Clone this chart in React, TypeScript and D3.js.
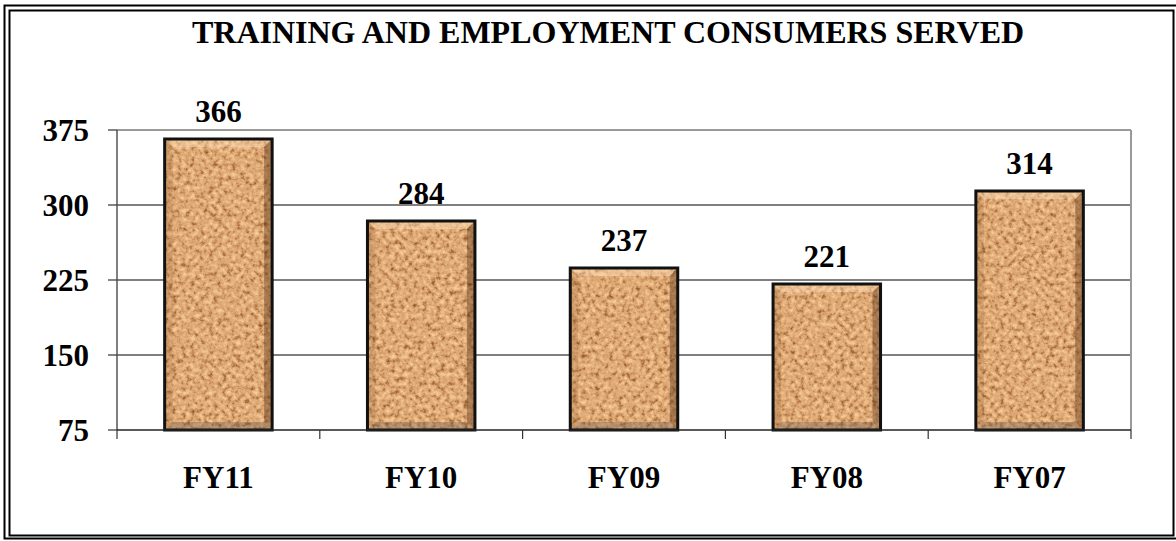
import React from "react";
import * as d3 from "d3";

const categories = ["FY11", "FY10", "FY09", "FY08", "FY07"];
const consumers = [366, 284, 237, 221, 314];
const yTicks = [75, 150, 225, 300, 375];
const title = "TRAINING AND EMPLOYMENT CONSUMERS SERVED";

const W = 1176;
const H = 541;
const plot = { left: 117, right: 1131, top: 130, bottom: 430 };
const font = "'Liberation Serif', 'Times New Roman', serif";

export default function App() {
  const x = d3
    .scaleBand<string>()
    .domain(categories)
    .range([plot.left, plot.right])
    .paddingInner(0.47)
    .paddingOuter(0.235);
  const band = d3.scaleBand<string>().domain(categories).range([plot.left, plot.right]);
  const y = d3.scaleLinear().domain([75, 375]).range([plot.bottom, plot.top]);
  const bev = 8;

  return (
    <svg
      width={W}
      height={H}
      style={{ position: "absolute", left: 0, top: 0, background: "#fff" }}
    >
      <defs>
        <filter id="cork" x="0" y="0" width="1" height="1" colorInterpolationFilters="sRGB">
          <feTurbulence type="fractalNoise" baseFrequency="0.22" numOctaves="3" seed="7" result="n" />
          <feColorMatrix
            in="n"
            type="matrix"
            values="0 0 0 0 0.6  0 0 0 0 0.36  0 0 0 0 0.18  3.5 0 0 0 -1.95"
            result="dark"
          />
          <feColorMatrix
            in="n"
            type="matrix"
            values="0 0 0 0 0.97  0 0 0 0 0.8  0 0 0 0 0.6  -3 0 0 0 1.6"
            result="light"
          />
          <feMerge result="m">
            <feMergeNode in="SourceGraphic" />
            <feMergeNode in="light" />
            <feMergeNode in="dark" />
          </feMerge>
          <feComposite in="m" in2="SourceAlpha" operator="in" />
        </filter>
      </defs>

      {/* double frame */}
      <rect x={4.5} y={5.5} width={1173} height={533} fill="none" stroke="#000" strokeWidth={2} />
      <rect x={9.5} y={10.5} width={1164} height={525} fill="none" stroke="#000" strokeWidth={2} />

      <text
        x={608}
        y={43}
        textAnchor="middle"
        fontFamily={font}
        fontWeight="bold"
        fontSize={32}
      >
        {title}
      </text>

      {/* gridlines */}
      {yTicks.slice(1, -1).map((t) => (
        <line key={t} x1={plot.left} x2={plot.right} y1={y(t)} y2={y(t)} stroke="#000" strokeWidth={1.2} />
      ))}
      {/* plot area top/right border */}
      <line x1={plot.left} x2={plot.right} y1={plot.top} y2={plot.top} stroke="#9a9a9a" strokeWidth={2} />
      <line x1={plot.right} x2={plot.right} y1={plot.top} y2={plot.bottom} stroke="#9a9a9a" strokeWidth={2} />

      {/* y axis */}
      <line x1={plot.left} x2={plot.left} y1={plot.top} y2={plot.bottom} stroke="#555" strokeWidth={1.5} />
      {yTicks.map((t) => (
        <g key={t}>
          <line x1={plot.left - 9} x2={plot.left} y1={y(t)} y2={y(t)} stroke="#333" strokeWidth={1.2} />
          <text
            x={plot.left - 28}
            y={y(t)}
            dy="0.35em"
            textAnchor="end"
            fontFamily={font}
            fontWeight="bold"
            fontSize={31}
          >
            {t}
          </text>
        </g>
      ))}

      {/* bars */}
      {categories.map((c, i) => {
        const x0 = x(c)!;
        const w = x.bandwidth();
        const y0 = y(consumers[i]);
        const h = y(75) - y0;
        const x1 = x0 + w;
        const y1 = y0 + h;
        return (
          <g key={c}>
            <rect x={x0} y={y0} width={w} height={h} fill="#dba571" filter="url(#cork)" />
            <polygon
              points={`${x0},${y0} ${x1},${y0} ${x1 - bev},${y0 + bev} ${x0 + bev},${y0 + bev}`}
              fill="rgba(255,228,190,0.4)"
            />
            <polygon
              points={`${x0},${y0} ${x0 + bev},${y0 + bev} ${x0 + bev},${y1 - bev} ${x0},${y1}`}
              fill="rgba(120,70,30,0.18)"
            />
            <polygon
              points={`${x1},${y0} ${x1},${y1} ${x1 - bev},${y1 - bev} ${x1 - bev},${y0 + bev}`}
              fill="rgba(70,35,10,0.38)"
            />
            <polygon
              points={`${x0},${y1} ${x0 + bev},${y1 - bev} ${x1 - bev},${y1 - bev} ${x1},${y1}`}
              fill="rgba(90,80,75,0.32)"
            />
            <rect x={x0} y={y0} width={w} height={h} fill="none" stroke="#111" strokeWidth={3} />
            <text
              x={x0 + w / 2}
              y={y0 - 17}
              textAnchor="middle"
              fontFamily={font}
              fontWeight="bold"
              fontSize={31}
            >
              {consumers[i]}
            </text>
          </g>
        );
      })}

      {/* x axis */}
      <line x1={plot.left} x2={plot.right} y1={plot.bottom} y2={plot.bottom} stroke="#222" strokeWidth={1.5} />
      {[...categories.map((c) => band(c)!), plot.right].map((bx, i) => (
        <line key={i} x1={bx} x2={bx} y1={plot.bottom} y2={plot.bottom + 9} stroke="#333" strokeWidth={1.2} />
      ))}
      {categories.map((c) => (
        <text
          key={c}
          x={band(c)! + band.bandwidth() / 2}
          y={488}
          textAnchor="middle"
          fontFamily={font}
          fontWeight="bold"
          fontSize={31}
        >
          {c}
        </text>
      ))}
    </svg>
  );
}
